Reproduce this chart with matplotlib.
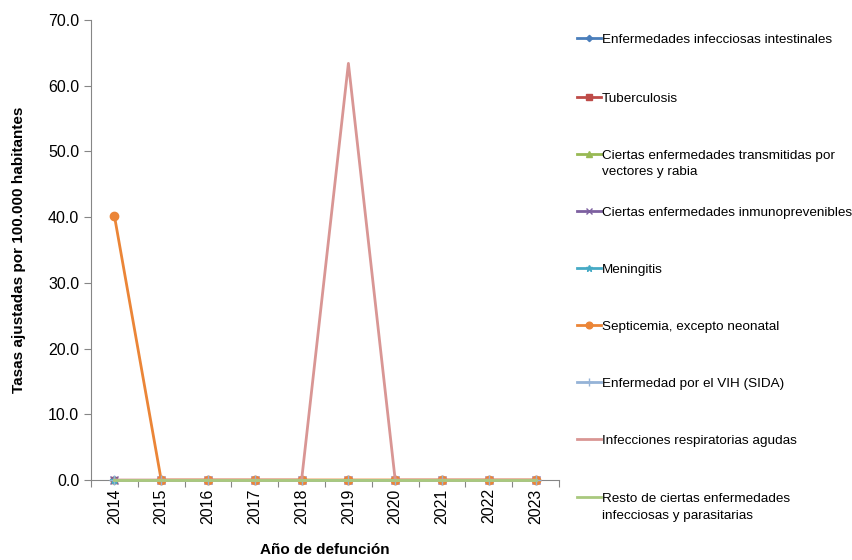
import matplotlib
matplotlib.use("Agg")
import matplotlib.pyplot as plt
from matplotlib.lines import Line2D

plt.rcParams['font.family'] = ['Liberation Sans', 'DejaVu Sans']

years = ['2014', '2015', '2016', '2017', '2018', '2019', '2020', '2021', '2022', '2023']

series_names = [
    'Enfermedades infecciosas intestinales',
    'Tuberculosis',
    'Ciertas enfermedades transmitidas por\nvectores y rabia',
    'Ciertas enfermedades inmunoprevenibles',
    'Meningitis',
    'Septicemia, excepto neonatal',
    'Enfermedad por el VIH (SIDA)',
    'Infecciones respiratorias agudas',
    'Resto de ciertas enfermedades\ninfecciosas y parasitarias',
]

intestinales = [0, 0, 0, 0, 0, 0, 0, 0, 0, 0]
tuberculosis = [0, 0, 0, 0, 0, 0, 0, 0, 0, 0]
vectores = [0, 0, 0, 0, 0, 0, 0, 0, 0, 0]
inmunoprevenibles = [0, 0, 0, 0, 0, 0, 0, 0, 0, 0]
meningitis = [0, 0, 0, 0, 0, 0, 0, 0, 0, 0]
septicemia = [40.2, 0, 0, 0, 0, 0, 0, 0, 0, 0]
vih = [0, 0, 0, 0, 0, 0, 0, 0, 0, 0]
respiratorias = [0, 0, 0, 0, 0, 63.4, 0, 0, 0, 0]
resto = [0, 0, 0, 0, 0, 0, 0, 0, 0, 0]

all_series = [intestinales, tuberculosis, vectores, inmunoprevenibles, meningitis,
              septicemia, vih, respiratorias, resto]
colors = ['#4A7EBB', '#BE4B48', '#98B954', '#7D60A0', '#46AAC5',
          '#EB8537', '#95B3D7', '#D99694', '#A9C97E']
markers = ['D', 's', '^', 'x', '*', 'o', '+', None, None]
msizes = [4, 5, 5, 6, 6, 6, 7, 0, 0]

fig = plt.figure(figsize=(8.53, 5.6), dpi=100)
ax = fig.add_axes([91 / 853, 80 / 560, 468 / 853, 460 / 560])

x = list(range(len(years)))
for vals, c, m, ms in zip(all_series, colors, markers, msizes):
    ax.plot(x, vals, color=c, lw=2, marker=m, markersize=ms,
            markeredgecolor=c, markerfacecolor=c, clip_on=False, zorder=3)

ax.set_xlim(-0.5, len(years) - 0.5)
ax.set_ylim(0, 70)
ax.set_yticks(range(0, 71, 10))
ax.set_yticklabels([f'{v:.1f}' for v in range(0, 71, 10)], fontsize=11.5)
ax.set_xticks([i - 0.5 for i in range(len(years) + 1)])
ax.set_xticklabels([])
ax.set_xticks(x, minor=True)
ax.set_xticklabels(years, minor=True, rotation=90, fontsize=11.5)
ax.tick_params(axis='x', which='minor', length=0, pad=6)
ax.tick_params(axis='x', which='major', length=5, color='#868686')
ax.tick_params(axis='y', length=5, color='#868686')

for s in ['top', 'right']:
    ax.spines[s].set_visible(False)
for s in ['left', 'bottom']:
    ax.spines[s].set_color('#868686')

ax.set_ylabel('Tasas ajustadas por 100.000 habitantes', fontsize=11, fontweight='bold', labelpad=16)
ax.set_xlabel('Año de defunción', fontsize=11, fontweight='bold', labelpad=14)

# legend drawn manually to keep Excel-like spacing
leg_y = [38, 97, 154, 211, 268, 325, 382, 439, 497]
for name, c, m, ms, yy in zip(series_names, colors, markers, msizes, leg_y):
    yf = 1 - yy / 560
    fig.add_artist(Line2D([577 / 853, 601 / 853], [yf, yf], color=c, lw=2,
                          transform=fig.transFigure))
    if m:
        fig.add_artist(Line2D([589 / 853], [yf], color=c, marker=m, markersize=ms * 0.8,
                              markeredgecolor=c, markerfacecolor=c,
                              transform=fig.transFigure))
    fig.text(602 / 853, 1 - (yy - 4) / 560, name, fontsize=9.7, va='top', ha='left',
             linespacing=1.5)

fig.savefig('out.png', dpi=100)
